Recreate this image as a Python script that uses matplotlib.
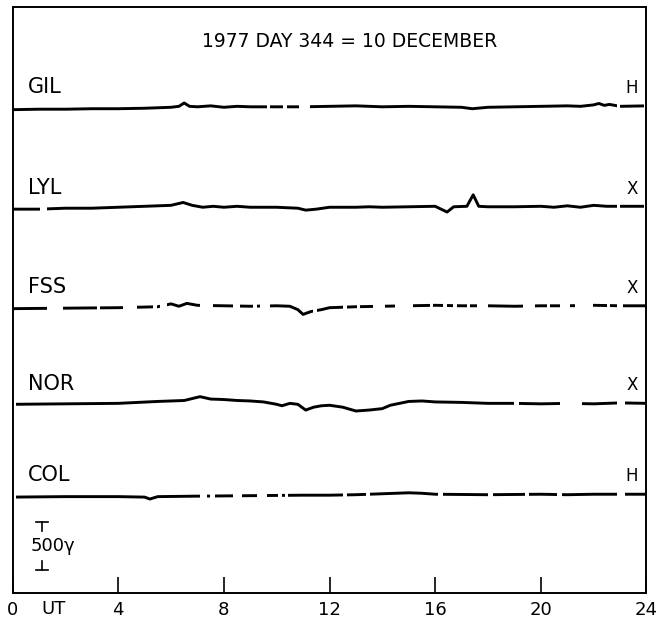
import numpy as np
import matplotlib
matplotlib.use("Agg")
import matplotlib.pyplot as plt
from matplotlib.patches import Rectangle

# magnetograms, 1977 day 344 (deviation in nT / gamma)
stations = ["GIL", "LYL", "FSS", "NOR", "COL"]
components = ["H", "X", "X", "X", "H"]
offsets = [5070, 4020, 2980, 1970, 1020]

gil_t = [0, 1, 2, 3, 4, 5, 5.5, 6, 6.3, 6.5, 6.7, 7, 7.5, 8, 8.5, 9, 10, 11, 12, 13, 14, 15, 16, 17,
         17.4, 18, 19, 20, 21, 21.5, 22, 22.2, 22.4, 22.6, 23, 24]
gil_v = [-20, -15, -15, -10, -10, -5, 0, 5, 15, 50, 15, 10, 20, 5, 15, 10, 10, 10, 15, 20, 10, 15, 10, 5,
         -10, 5, 10, 15, 20, 15, 30, 45, 25, 35, 15, 20]
gil_seg = [(0, 9.1), (9.1, 9.64), (9.75, 10.25), (10.4, 10.85), (11.25, 22.9), (23.0, 23.9)]

lyl_t = [0, 1, 2, 3, 4, 5, 6, 6.46, 6.8, 7.2, 7.6, 8, 8.5, 9, 10, 10.8, 11.1, 11.5, 12, 13, 13.5, 14, 15,
         16, 16.45, 16.7, 17.2, 17.44, 17.65, 18, 19, 20, 20.5, 21, 21.5, 22, 22.5, 23, 24]
lyl_v = [-10, -10, 0, 0, 10, 20, 30, 60, 30, 10, 20, 10, 20, 10, 10, 0, -20, -10, 10, 10, 15, 10, 15,
         20, -40, 15, 20, 140, 20, 15, 15, 20, 10, 25, 10, 30, 20, 20, 20]
lyl_seg = [(0, 1.04), (1.3, 22.9), (23.0, 23.9)]

fss_t = [0, 2, 4, 5.5, 6, 6.3, 6.6, 7, 8, 9, 10, 10.5, 10.8, 11.0, 11.3, 11.7, 12, 13, 14, 15, 16, 17,
         18, 19, 20, 21, 22, 23, 24]
fss_v = [-10, -5, 0, 10, 40, 15, 45, 25, 20, 15, 20, 15, -20, -70, -40, -20, 0, 10, 15, 20, 25, 20,
         20, 15, 20, 20, 25, 20, 20]
fss_seg = [(0, 1.31), (1.91, 3.2), (3.31, 4.19), (4.72, 5.32), (5.47, 5.59), (5.85, 7.1), (7.59, 8.35),
           (8.62, 9.11), (9.26, 9.38), (9.75, 11.38), (11.53, 12.52), (12.67, 13.05), (13.16, 13.66),
           (14.11, 14.49), (15.17, 15.81), (15.93, 16.31), (16.46, 16.69), (16.84, 17.22),
           (17.33, 17.59), (18.0, 19.34), (19.79, 20.25), (20.36, 20.74), (21.12, 21.31),
           (21.99, 22.52), (22.63, 22.9), (23.13, 23.96)]

nor_t = [0, 2, 4, 5.5, 6.5, 7.1, 7.5, 8, 8.5, 9, 9.5, 10, 10.2, 10.5, 10.8, 11.1, 11.4, 11.7, 12, 12.5,
         13, 13.5, 14, 14.3, 15, 15.5, 16, 17, 18, 19, 20, 21, 22, 23, 24]
nor_v = [0, 5, 10, 30, 40, 80, 55, 50, 40, 35, 25, 0, -15, 10, 0, -60, -30, -15, -10, -30,
         -70, -60, -45, -10, 30, 35, 25, 20, 10, 10, 5, 10, 5, 15, 10]
nor_seg = [(0.15, 19.0), (19.19, 20.74), (21.57, 22.9), (23.2, 23.96)]

col_t = [0, 2, 4, 5, 5.2, 5.5, 7, 9, 11, 12, 13, 14, 15, 15.5, 16, 18, 20, 21, 22, 23, 24]
col_v = [-20, -15, -15, -20, -40, -15, -10, -5, 0, 0, 5, 15, 25, 20, 10, 5, 10, 5, 10, 10, 10]
col_seg = [(0.15, 7.1), (7.37, 7.48), (7.67, 8.35), (8.69, 9.26), (9.64, 10.06), (10.2, 10.3),
           (10.43, 12.5), (12.65, 13.4), (13.55, 16.1), (16.3, 18.0), (18.2, 19.4), (19.55, 20.6),
           (20.8, 22.9), (23.2, 23.96)]

traces_t = [gil_t, lyl_t, fss_t, nor_t, col_t]
traces_v = [gil_v, lyl_v, fss_v, nor_v, col_v]
segments = [gil_seg, lyl_seg, fss_seg, nor_seg, col_seg]

hour_ticks = [0, 4, 8, 12, 16, 20, 24]
title = "1977 DAY 344 = 10 DECEMBER"
scale_nt = 500

fig = plt.figure(figsize=(6.59, 6.22), dpi=100)
ax = fig.add_axes([0.019, 0.047, 0.962, 0.942])
ax.set_xlim(0, 24)
ax.set_ylim(0, 6125)

for name, comp, off, t, v, segs in zip(stations, components, offsets, traces_t, traces_v, segments):
    y = np.array(v) + off
    for t0, t1 in segs:
        line, = ax.plot(t, y, color="black", lw=2.1, solid_capstyle="butt")
        line.set_clip_path(Rectangle((t0, off - 400), t1 - t0, 800, transform=ax.transData))
    ax.text(0.6, off + 110, name, fontsize=15, ha="left", va="bottom")
    ax.text(23.45, off + 110, comp, fontsize=12, ha="center", va="bottom")

ax.text(12.75, 5760, title, fontsize=13.5, ha="center", va="center")

# 500 gamma scale bar
sx = 1.12
y0 = 240
ax.plot([sx, sx], [y0 + scale_nt, y0 + scale_nt - 90], color="black", lw=1.2)
ax.plot([sx - 0.22, sx + 0.22], [y0 + scale_nt, y0 + scale_nt], color="black", lw=1.2)
ax.plot([sx, sx], [y0, y0 + 90], color="black", lw=1.2)
ax.plot([sx - 0.22, sx + 0.22], [y0, y0], color="black", lw=1.2)
ax.text(sx + 0.4, y0 + scale_nt / 2, "500γ", fontsize=13, ha="center", va="center")

ax.set_xticks(hour_ticks)
ax.set_xticklabels([str(h) for h in hour_ticks], fontsize=13)
ax.tick_params(axis="x", direction="in", length=11.5, width=1.2, pad=6)
ax.set_yticks([])
ax.text(1.55, -0.027, "UT", transform=ax.get_xaxis_transform(), fontsize=13, ha="center", va="center")
for s in ax.spines.values():
    s.set_linewidth(1.4)

fig.savefig("out.png", dpi=100)
